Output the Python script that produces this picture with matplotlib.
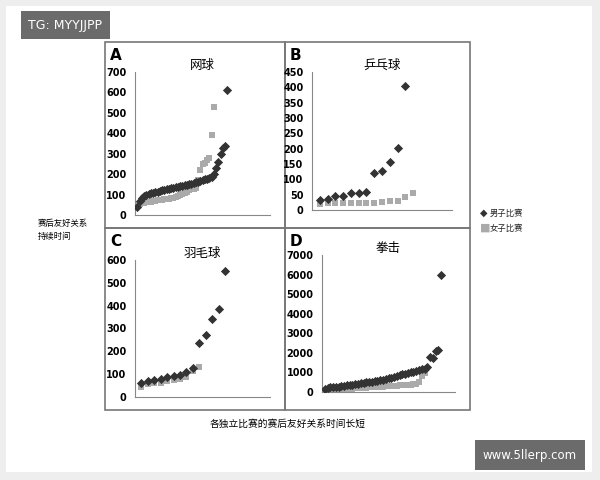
import matplotlib
matplotlib.use("Agg")
import matplotlib.pyplot as plt
from matplotlib.patches import Rectangle

CJK = "Noto Sans CJK SC"

tennis_men = [40, 70, 85, 92, 98, 102, 106, 110, 112, 115, 118, 120, 122, 125, 127, 130, 132, 135, 137, 140,
              142, 145, 147, 150, 153, 157, 160, 163, 167, 170, 174, 178, 182, 188, 200, 230, 260, 300, 330, 340, 610]
tennis_women = [50, 55, 58, 60, 62, 64, 66, 68, 70, 72, 74, 75, 76, 78, 80, 82, 85, 90, 95, 100,
                105, 110, 115, 120, 125, 128, 130, 170, 220, 250, 255, 270, 280, 390, 530]
tt_men = [32, 35, 45, 47, 55, 55, 60, 120, 127, 157, 203, 405]
tt_women = [20, 22, 24, 23, 24, 24, 24, 23, 25, 28, 28, 42, 55]
bad_men = [60, 68, 75, 80, 88, 90, 95, 110, 125, 235, 270, 340, 385, 550]
bad_women = [45, 58, 60, 62, 72, 75, 80, 88, 115, 133]
box_men = [150, 200, 230, 250, 260, 280, 300, 320, 340, 360, 380, 400, 430, 450, 470, 490, 510, 530, 550, 580,
           600, 630, 660, 700, 740, 780, 820, 860, 900, 940, 980, 1000, 1030, 1060, 1100, 1150, 1200, 1300,
           1800, 1750, 2100, 2150, 6000]
box_women = [50, 60, 80, 100, 110, 120, 130, 140, 150, 160, 170, 180, 190, 200, 210, 220, 230, 240, 250, 260,
             270, 280, 290, 300, 310, 320, 330, 340, 350, 360, 370, 380, 390, 400, 500, 800, 950]

panels = [
    ("A", "网球", tennis_men, tennis_women, 700, 100, 60),
    ("B", "乒乓球", tt_men, tt_women, 450, 50, 18),
    ("C", "羽毛球", bad_men, bad_women, 600, 100, 21),
    ("D", "拳击", box_men, box_women, 7000, 1000, 48),
]

W, H = 600, 480
fig = plt.figure(figsize=(6, 4.8), dpi=100)
fig.patch.set_facecolor("#eeeeee")
fig.patches.append(Rectangle((6 / W, 1 - 472 / H), 586 / W, 466 / H, transform=fig.transFigure,
                             facecolor="white", edgecolor="none", zorder=-10))

boxes = [(105, 42, 180, 186), (285, 42, 185, 186), (105, 228, 180, 182), (285, 228, 185, 182)]
axrects = [(135, 72, 135, 143), (312, 72, 140, 138), (135, 260, 135, 137), (322, 255, 133, 137)]
dark = "#333333"
grey = "#aaaaaa"
for (lab, title, m, w, ymax, step, xmax), (bx, by, bw, bh), (ax_, ay, aw, ah) in zip(panels, boxes, axrects):
    fig.patches.append(Rectangle((bx / W, 1 - (by + bh) / H), bw / W, bh / H, transform=fig.transFigure,
                                 facecolor="none", edgecolor="#777777", lw=1.2, zorder=-5))
    fig.text((bx + 5) / W, 1 - (by + 14) / H, lab, fontsize=11, fontweight="bold", va="center")
    ax = fig.add_axes([ax_ / W, 1 - (ay + ah) / H, aw / W, ah / H])
    ax.patch.set_alpha(0)
    ax.scatter(range(1, len(w) + 1), w, marker="s", s=22, color=grey, zorder=2, linewidths=0)
    ax.scatter(range(1, len(m) + 1), m, marker="D", s=22, color=dark, zorder=3, linewidths=0)
    ax.set_ylim(0, ymax)
    ax.set_yticks(range(0, ymax + 1, step))
    ax.set_xlim(0, xmax)
    ax.set_xticks([])
    for s in ["top", "right"]:
        ax.spines[s].set_visible(False)
    for s in ["left", "bottom"]:
        ax.spines[s].set_color("#888888")
    ax.tick_params(axis="y", labelsize=7, length=0, pad=6)
    for t in ax.get_yticklabels():
        t.set_fontweight("bold")
    ax.set_title(title, fontfamily=CJK, fontsize=9, pad=2)

fig.text(38 / W, 1 - 230 / H, "赛后友好关系\n持续时间", fontfamily=CJK, fontsize=6, va="center", linespacing=1.6)
fig.text(480 / W, 1 - 213 / H, "◆", fontsize=7, va="center", color=dark)
fig.text(480 / W, 1 - 228 / H, "■", fontsize=8, va="center", color=grey)
fig.text(490 / W, 1 - 213 / H, "男子比赛", fontfamily=CJK, fontsize=6, va="center", color="#222222")
fig.text(490 / W, 1 - 228 / H, "女子比赛", fontfamily=CJK, fontsize=6, va="center", color="#222222")
fig.text(288 / W, 1 - 424 / H, "各独立比赛的赛后友好关系时间长短", fontfamily=CJK, fontsize=7, ha="center", va="center")

fig.text(65 / W, 1 - 25 / H, "TG: MYYJJPP", fontsize=9, color="white", ha="center", va="center",
         bbox=dict(boxstyle="square,pad=0.6", facecolor="#6b6b6b", edgecolor="none"))
fig.text(530 / W, 1 - 455 / H, "www.5llerp.com", fontsize=8.5, color="white", ha="center", va="center",
         bbox=dict(boxstyle="square,pad=0.7", facecolor="#6b6b6b", edgecolor="none"))

fig.savefig("out.png", dpi=100)
